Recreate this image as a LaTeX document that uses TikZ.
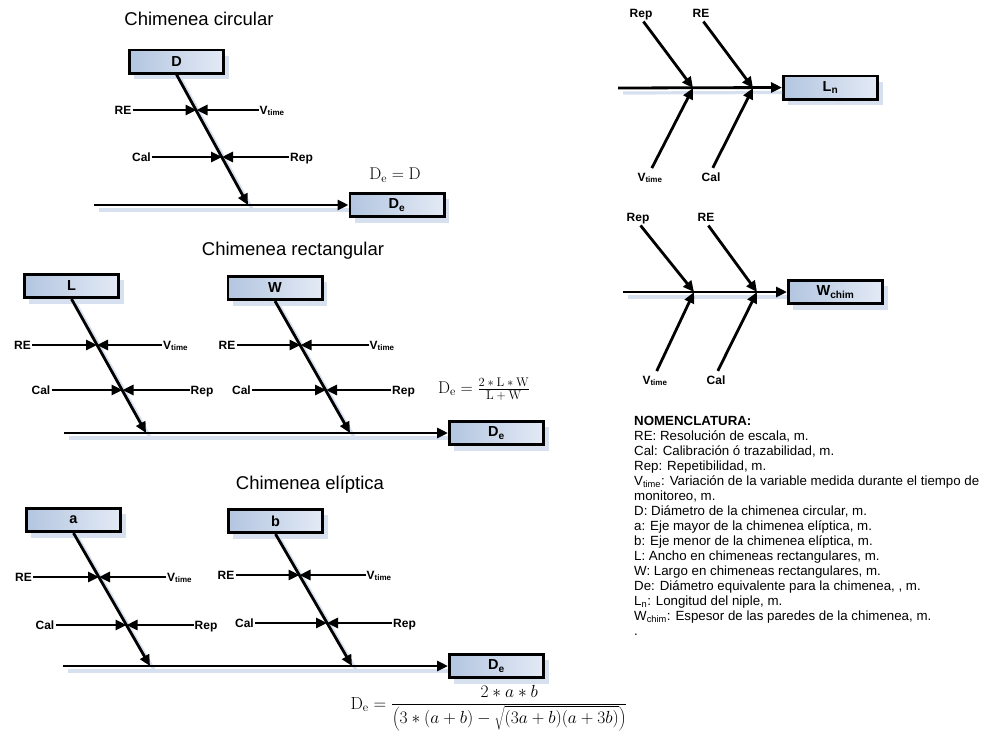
\RequirePackage{fix-cm}
\documentclass[tikz,border=0pt]{standalone}
\usepackage[no-math]{fontspec}
\setmainfont{Liberation Sans}
\usetikzlibrary{arrows.meta,shadows,calc}

\definecolor{boxleft}{HTML}{B3C5E0}
\definecolor{boxright}{HTML}{E3EAF5}
\definecolor{shadowblue}{HTML}{D6E0EF}

\tikzset{
  causebox/.style={draw, line width=2.8pt, minimum width=94.2pt, minimum height=23.2pt, inner sep=0pt,
    left color=boxleft, right color=boxright, font=\bfseries\fontsize{14.5}{16}\selectfont,
    drop shadow={shadow xshift=5pt, shadow yshift=-6pt, fill=shadowblue, opacity=1}},
  arr/.style={line width=2.8pt, -{Triangle[length=11pt,width=10pt]}},
  lineshadow/.style={line width=3.2pt, shadowblue},
  lab/.style={font=\bfseries\fontsize{12}{14}\selectfont, inner sep=1pt, text depth=0pt},
  heading/.style={font=\fontsize{18.5}{22}\selectfont},
  formula/.style={font=\fontsize{17}{20}\selectfont, inner sep=0pt},
}

\begin{document}
\begin{tikzpicture}[x=1pt, y=-1pt]
  \useasboundingbox (0,0) rectangle (987,739);

  % ---------------- Chimenea circular ----------------
  \node[heading] (tcirc) at (199,19) {Chimenea circular};
  \node[causebox] (D) at (176.5,61.5) {D};
  \node[causebox] (Dec) at (397,205) {D\textsubscript{e}};
  \node[formula] (fcirc) at (395,175) {$\mathrm{D_e} = \mathrm{D}$};

  % points on the lines
  \coordinate (c0) at (94,205);
  \coordinate (cm) at (248,205);
  \coordinate (ck1) at (196.5,110);
  \coordinate (ck2) at (222,157);

  % shadows of the lines
  \draw[lineshadow] ([shift={(4,4)}]D.south) -- ([shift={(4,4)}]cm);
  \draw[lineshadow] ([shift={(5,5)}]c0) -- ([shift={(0,5)}]Dec.west);

  \draw[arr] (D.south) -- (cm);
  \draw[arr] (c0) -- (Dec.west);

  \node[lab, anchor=east] (cre) at ($(ck1)+(-64,0)$) {RE};
  \node[lab, anchor=west] (cvt) at ($(ck1)+(62,0)$) {V\textsubscript{time}};
  \node[lab, anchor=east] (ccal) at ($(ck2)+(-70,0)$) {Cal};
  \node[lab, anchor=west] (crep) at ($(ck2)+(67,0)$) {Rep};
  \draw[arr] (cre) -- (ck1);
  \draw[arr] (cvt) -- (ck1);
  \draw[arr] (ccal) -- (ck2);
  \draw[arr] (crep) -- (ck2);

  % ---------------- Chimenea rectangular ----------------
  \node[heading] (trect) at (293,251) {Chimenea rectangular};
  \node[causebox] (L) at (71.5,286) {L};
  \node[causebox] (W) at (275,288) {W};
  \node[causebox] (Der) at (496.5,433) {D\textsubscript{e}};
  \node[formula] (frect) at (484,389) {$\mathrm{D_e} =
    \frac{\hbox{\fontsize{12.5}{14}\selectfont$2\ast\mathrm{L}\ast\mathrm{W}$}}{\hbox{\fontsize{12.5}{14}\selectfont$\mathrm{L}+\mathrm{W}$}}$};

  \coordinate (r0) at (64,433);
  \coordinate (lm) at (146,433);
  \coordinate (wm) at (350,433);
  \coordinate (lk1) at (97,345);
  \coordinate (lk2) at (122.5,390);
  \coordinate (wk1) at (300.5,345);
  \coordinate (wk2) at (326,390);

  % shadows of the lines
  \draw[lineshadow] ([shift={(4,4)}]L.south) -- ([shift={(4,4)}]lm);
  \draw[lineshadow] ([shift={(4,4)}]W.south) -- ([shift={(4,4)}]wm);
  \draw[lineshadow] ([shift={(5,5)}]r0) -- ([shift={(0,5)}]Der.west);

  \draw[arr] (L.south) -- (lm);
  \draw[arr] (W.south) -- (wm);
  \draw[arr] (r0) -- (Der.west);

  \node[lab, anchor=east] (lre) at ($(lk1)+(-65,0)$) {RE};
  \node[lab, anchor=west] (lvt) at ($(lk1)+(65,0)$) {V\textsubscript{time}};
  \node[lab, anchor=east] (lcal) at ($(lk2)+(-71,0)$) {Cal};
  \node[lab, anchor=west] (lrep) at ($(lk2)+(67,0)$) {Rep};
  \draw[arr] (lre) -- (lk1);
  \draw[arr] (lvt) -- (lk1);
  \draw[arr] (lcal) -- (lk2);
  \draw[arr] (lrep) -- (lk2);

  \node[lab, anchor=east] (wre) at ($(wk1)+(-64,0)$) {RE};
  \node[lab, anchor=west] (wvt) at ($(wk1)+(68,0)$) {V\textsubscript{time}};
  \node[lab, anchor=east] (wcal) at ($(wk2)+(-74,0)$) {Cal};
  \node[lab, anchor=west] (wrep) at ($(wk2)+(65,0)$) {Rep};
  \draw[arr] (wre) -- (wk1);
  \draw[arr] (wvt) -- (wk1);
  \draw[arr] (wcal) -- (wk2);
  \draw[arr] (wrep) -- (wk2);

  % ---------------- Chimenea eliptica ----------------
  \node[heading] (telip) at (310,485) {Chimenea elíptica};
  \node[causebox] (a) at (73.5,520) {a};
  \node[causebox] (b) at (275.5,521) {b};
  \node[causebox] (Dee) at (496.5,666) {D\textsubscript{e}};
  \node[formula, font=\fontsize{17.5}{20}\selectfont] (felip) at (489,708)
    {$\mathrm{D_e} = \displaystyle\frac{2\ast a\ast b}{\left(3\ast(a+b)-\sqrt{(3a+b)(a+3b)}\right)}$};

  \coordinate (e0) at (63,666);
  \coordinate (am) at (150,666);
  \coordinate (bm) at (352,666);
  \coordinate (ak1) at (99,577);
  \coordinate (ak2) at (126.5,625);
  \coordinate (bk1) at (299.5,575);
  \coordinate (bk2) at (327,623);

  % shadows of the lines
  \draw[lineshadow] ([shift={(4,4)}]a.south) -- ([shift={(4,4)}]am);
  \draw[lineshadow] ([shift={(4,4)}]b.south) -- ([shift={(4,4)}]bm);
  \draw[lineshadow] ([shift={(5,5)}]e0) -- ([shift={(0,5)}]Dee.west);

  \draw[arr] (a.south) -- (am);
  \draw[arr] (b.south) -- (bm);
  \draw[arr] (e0) -- (Dee.west);

  \node[lab, anchor=east] (are) at ($(ak1)+(-66,0)$) {RE};
  \node[lab, anchor=west] (avt) at ($(ak1)+(67,0)$) {V\textsubscript{time}};
  \node[lab, anchor=east] (acal) at ($(ak2)+(-71,0)$) {Cal};
  \node[lab, anchor=west] (arep) at ($(ak2)+(67,0)$) {Rep};
  \draw[arr] (are) -- (ak1);
  \draw[arr] (avt) -- (ak1);
  \draw[arr] (acal) -- (ak2);
  \draw[arr] (arep) -- (ak2);

  \node[lab, anchor=east] (bre) at ($(bk1)+(-64,0)$) {RE};
  \node[lab, anchor=west] (bvt) at ($(bk1)+(66,0)$) {V\textsubscript{time}};
  \node[lab, anchor=east] (bcal) at ($(bk2)+(-72,0)$) {Cal};
  \node[lab, anchor=west] (brep) at ($(bk2)+(65,0)$) {Rep};
  \draw[arr] (bre) -- (bk1);
  \draw[arr] (bvt) -- (bk1);
  \draw[arr] (bcal) -- (bk2);
  \draw[arr] (brep) -- (bk2);

  % ---------------- Longitud del niple ----------------
  \node[causebox] (Ln) at (830.5,87.5) {L\textsubscript{n}};
  \coordinate (n0) at (618,88);
  \coordinate (n1) at (693,88);
  \coordinate (n2) at (753,88);
  \node[lab] (nrep) at (641,13) {Rep};
  \node[lab] (nre) at (701,13) {RE};
  \node[lab] (nvt) at (650,177) {V\textsubscript{time}};
  \node[lab] (ncal) at (711,177) {Cal};

  \draw[lineshadow] ([shift={(5,5)}]n0) -- ([shift={(0,5)}]Ln.west);
  \draw[arr] (n0) -- (Ln.west);
  \draw[arr, shorten <=4pt] (nrep.south) -- (n1);
  \draw[arr, shorten <=4pt] (nre.south) -- (n2);
  \draw[arr, shorten <=4pt] (nvt.north) -- (n1);
  \draw[arr, shorten <=4pt] (ncal.north) -- (n2);

  % ---------------- Espesor de las paredes ----------------
  \node[causebox] (Wchim) at (835.5,292) {W\textsubscript{chim}};
  \coordinate (w0) at (623,292);
  \coordinate (w1) at (694,292);
  \coordinate (w2) at (757,292);
  \node[lab] (wcrep) at (638,217) {Rep};
  \node[lab] (wcre) at (706,217) {RE};
  \node[lab] (wcvt) at (655,380) {V\textsubscript{time}};
  \node[lab] (wccal) at (716,380) {Cal};

  \draw[lineshadow] ([shift={(5,5)}]w0) -- ([shift={(0,5)}]Wchim.west);
  \draw[arr] (w0) -- (Wchim.west);
  \draw[arr, shorten <=4pt] (wcrep.south) -- (w1);
  \draw[arr, shorten <=4pt] (wcre.south) -- (w2);
  \draw[arr, shorten <=4pt] (wcvt.north) -- (w1);
  \draw[arr, shorten <=4pt] (wccal.north) -- (w2);

  % ---------------- Nomenclatura ----------------
  \node[anchor=north west, inner sep=0pt, align=left, font=\fontsize{13.3}{15}\selectfont] (nom) at (634,416)
    {\textbf{NOMENCLATURA:}\\
     RE: Resolución de escala, m.\\
     Cal: Calibración ó trazabilidad, m.\\
     Rep: Repetibilidad, m.\\
     V\textsubscript{time}: Variación de la variable medida durante el tiempo de\\
     monitoreo, m.\\
     D: Diámetro de la chimenea circular, m.\\
     a: Eje mayor de la chimenea elíptica, m.\\
     b: Eje menor de la chimenea elíptica, m.\\
     L: Ancho en chimeneas rectangulares, m.\\
     W: Largo en chimeneas rectangulares, m.\\
     De: Diámetro equivalente para la chimenea, , m.\\
     L\textsubscript{n}: Longitud del niple, m.\\
     W\textsubscript{chim}: Espesor de las paredes de la chimenea, m.\\
     .};
\end{tikzpicture}
\end{document}
